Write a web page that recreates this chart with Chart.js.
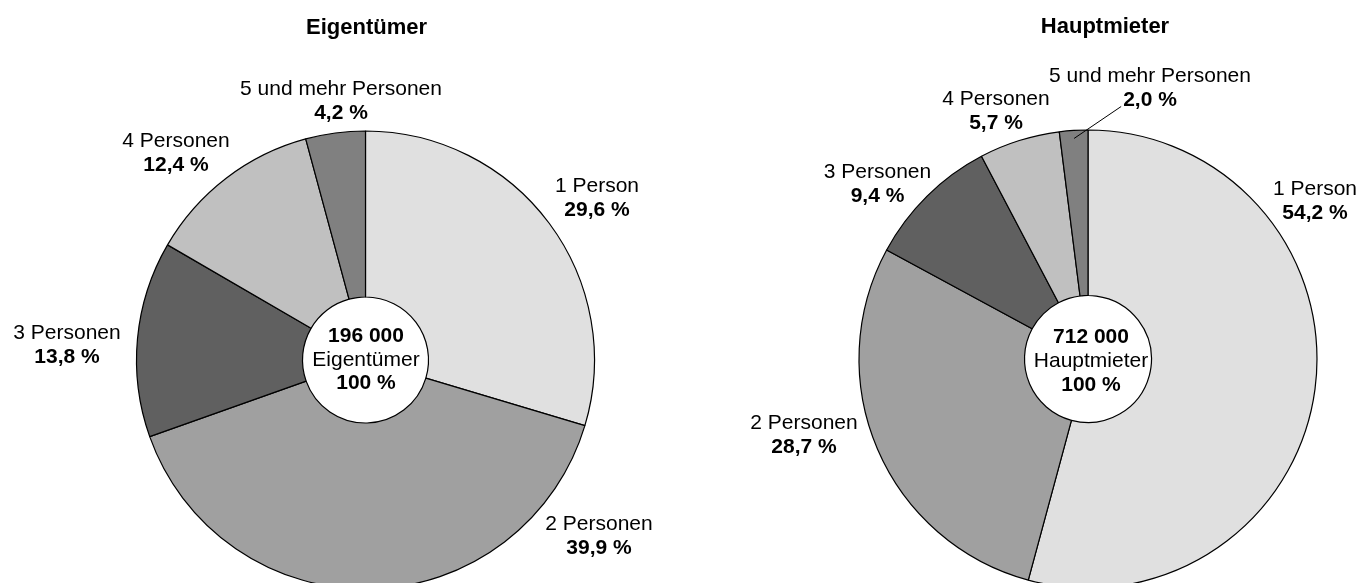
<!DOCTYPE html>
<html>
<head>
<meta charset="utf-8">
<script src="https://cdn.jsdelivr.net/npm/chart.js@4/dist/chart.umd.min.js"></script>
<style>
  html, body { margin: 0; padding: 0; background: #fff; overflow: hidden; width: 1359px; height: 583px; }
  canvas { position: absolute; left: 0; top: 0; }
</style>
</head>
<body>
<canvas id="c1" width="1359" height="583"></canvas>
<canvas id="c2" width="1359" height="583"></canvas>
<script>
// ---------- data ----------
const categories = ['1 Person', '2 Personen', '3 Personen', '4 Personen', '5 und mehr Personen'];
const eigentuemerShares = [29.6, 39.9, 13.8, 12.4, 4.2];
const hauptmieterShares = [54.2, 28.7, 9.4, 5.7, 2.0];
const chartTitles = ['Eigentümer', 'Hauptmieter'];
const totalCounts = ['196 000', '712 000'];
const totalShares = ['100 %', '100 %'];

// ---------- styles / layout ----------
const sliceColors = ['#e0e0e0', '#a0a0a0', '#606060', '#c0c0c0', '#808080'];
const FONT = '"Liberation Sans", Arial, Helvetica, sans-serif';
const W = 1359, H = 583;
const LABEL_SIZE = 21, TITLE_SIZE = 22, LINE = 23.5;

const layouts = [
  { cx: 365.5, cy: 360, r: 229, hole: 63,
    title: { x: 366.5, y: 34 },
    centre: { dx: 0.5, lines: [-18, 5.5, 29] },
    labels: [[231.5, -168], [233.5, 170], [-298.5, -21], [-189.5, -213], [-24.5, -265]],
    leader: -1 },
  { cx: 1088, cy: 359, r: 229, hole: 63.5,
    title: { x: 1105, y: 33 },
    centre: { dx: 3, lines: [-16, 8, 31.5] },
    labels: [[227, -164], [-284, 70], [-210.5, -181], [-92, -254], [62, -277]],
    leader: 4 }
];

const fmt = v => v.toFixed(1).replace('.', ',') + ' %';

const textPlugin = {
  id: 'pieText',
  afterDraw(chart, args, o) {
    const ctx = chart.ctx;
    const meta = chart.getDatasetMeta(0);
    const cx = meta.data[0].x, cy = meta.data[0].y;
    const values = chart.data.datasets[0].data;
    ctx.save();
    ctx.fillStyle = '#000';
    ctx.textAlign = 'center';
    ctx.textBaseline = 'alphabetic';

    // title
    ctx.font = `bold ${TITLE_SIZE}px ${FONT}`;
    ctx.fillText(o.title, o.layout.title.x, o.layout.title.y);

    // slice labels
    chart.data.labels.forEach((name, i) => {
      const [dx, dy] = o.layout.labels[i];
      const x = cx + dx, y = cy + dy;
      ctx.font = `${LABEL_SIZE}px ${FONT}`;
      ctx.fillText(name, x, y);
      ctx.font = `bold ${LABEL_SIZE}px ${FONT}`;
      const pct = fmt(values[i]);
      ctx.fillText(pct, x, y + LINE);
      if (o.layout.leader === i) {
        const w = ctx.measureText(pct).width;
        const arc = meta.data[i];
        const mid = (arc.startAngle + arc.endAngle) / 2;
        const rr = arc.outerRadius - 8;
        ctx.beginPath();
        ctx.strokeStyle = '#000';
        ctx.lineWidth = 1;
        ctx.moveTo(x - w / 2 - 2, y + LINE + 1);
        ctx.lineTo(cx + Math.cos(mid) * rr, cy + Math.sin(mid) * rr);
        ctx.stroke();
      }
    });

    // centre text
    const c = o.layout.centre;
    ctx.font = `bold ${LABEL_SIZE}px ${FONT}`;
    ctx.fillText(o.total, cx + c.dx, cy + c.lines[0]);
    ctx.font = `${LABEL_SIZE}px ${FONT}`;
    ctx.fillText(o.title, cx + c.dx, cy + c.lines[1]);
    ctx.font = `bold ${LABEL_SIZE}px ${FONT}`;
    ctx.fillText(o.share, cx + c.dx, cy + c.lines[2]);
    ctx.restore();
  }
};

function makeChart(id, values, i) {
  const L = layouts[i];
  return new Chart(document.getElementById(id), {
    type: 'doughnut',
    data: {
      labels: categories,
      datasets: [{
        data: values,
        backgroundColor: sliceColors,
        borderColor: '#000000',
        borderWidth: 1.2
      }]
    },
    options: {
      responsive: false,
      animation: false,
      events: [],
      radius: L.r,
      cutout: (L.hole / L.r * 100) + '%',
      layout: {
        padding: {
          left: Math.max(0, 2 * L.cx - W),
          right: Math.max(0, W - 2 * L.cx),
          top: 2 * L.cy - H,
          bottom: 0
        }
      },
      plugins: {
        legend: { display: false },
        tooltip: { enabled: false },
        title: { display: false },
        pieText: { layout: L, title: chartTitles[i], total: totalCounts[i], share: totalShares[i] }
      }
    },
    plugins: [textPlugin]
  });
}

makeChart('c1', eigentuemerShares, 0);
makeChart('c2', hauptmieterShares, 1);
</script>
</body>
</html>
